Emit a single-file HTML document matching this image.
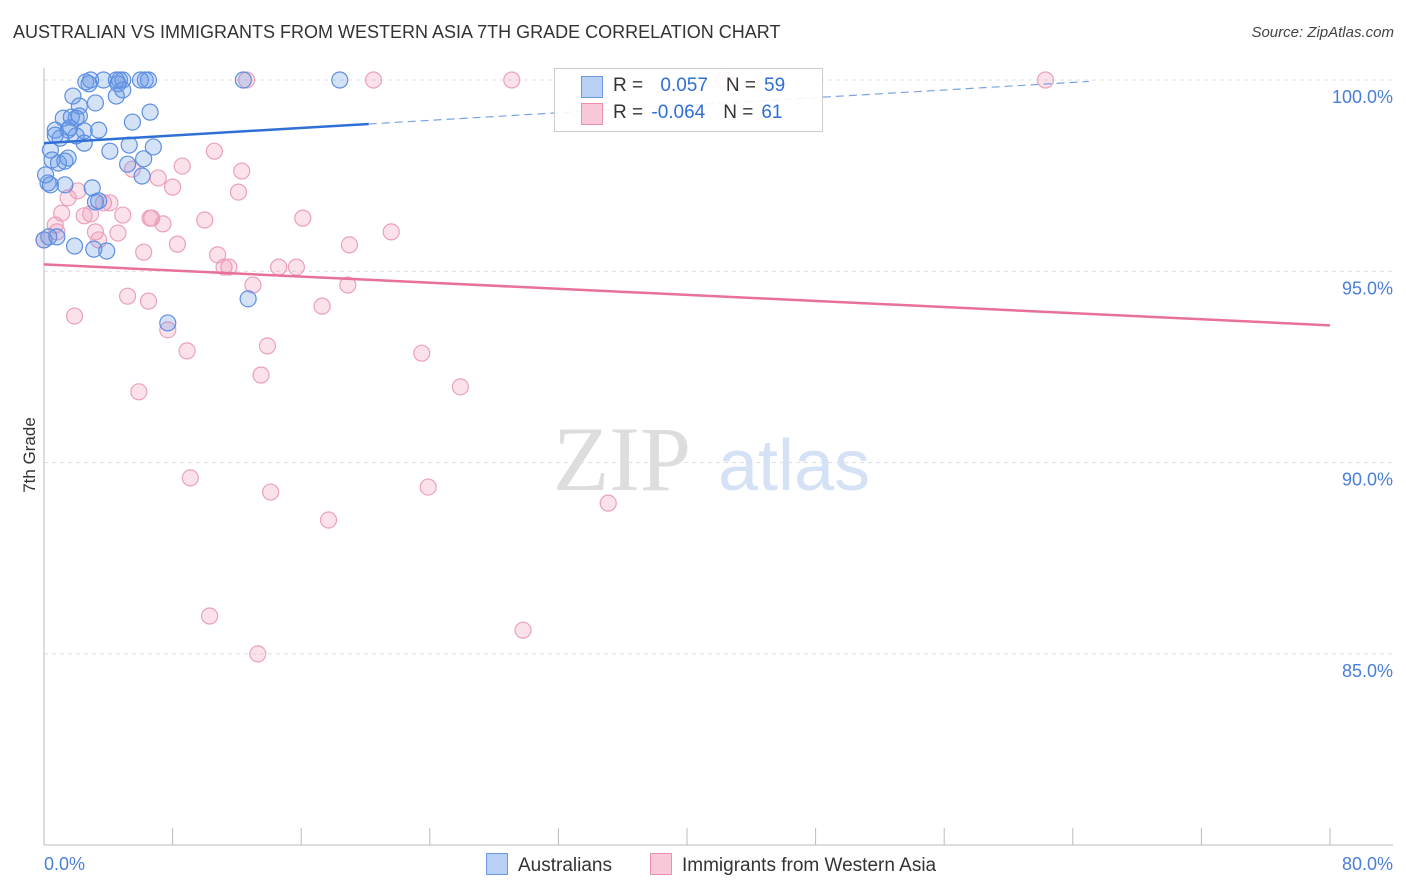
<!DOCTYPE html>
<html><head><meta charset="utf-8"><style>
body{margin:0;background:#fff;font-family:"Liberation Sans",sans-serif;}
#wrap{position:relative;width:1406px;height:892px;overflow:hidden;}
.t{position:absolute;white-space:nowrap;}
</style></head><body>
<div id="wrap">
<div class="t" style="left:13px;top:22px;font-size:18px;color:#333;">AUSTRALIAN VS IMMIGRANTS FROM WESTERN ASIA 7TH GRADE CORRELATION CHART</div>
<div class="t" style="right:12px;top:24px;font-size:15px;color:#444;font-style:italic;">Source: ZipAtlas.com</div>
<div class="t" style="left:-8px;top:445px;font-size:17px;color:#333;transform:rotate(-90deg);">7th Grade</div>
<svg id="svg" width="1406" height="892" style="position:absolute;left:0;top:0"></svg>
</div>
<script>
const blueX=[2.6,2.9,3.7,4.5,4.7,4.9,6.0,6.3,6.5,12.4,18.4,2.8,4.6,1.8,4.5,4.9,2.2,3.2,6.6,1.2,1.7,2.2,2.0,0.7,1.5,1.6,2.5,3.4,5.5,1.0,2.0,2.5,5.3,6.8,4.1,0.5,0.9,1.3,1.5,5.2,6.2,6.1,0.25,1.3,3.0,0.4,3.2,3.4,0.3,0.0,0.8,1.9,3.1,3.9,12.7,7.7,0.4,0.7,0.1];
const blueY=[99.95,100,100,100,100,100,100,100,100,100,100,99.9,99.9,99.58,99.58,99.74,99.32,99.4,99.16,99.0,99.03,99.06,99.0,98.69,98.69,98.75,98.67,98.69,98.9,98.48,98.54,98.35,98.3,98.25,98.14,97.91,97.83,97.88,97.96,97.8,97.94,97.49,97.31,97.26,97.18,97.26,96.81,96.84,95.9,95.82,95.9,95.66,95.58,95.53,94.28,93.65,98.17,98.56,97.52];
const pinkX=[0.0,0.7,0.8,1.1,1.5,2.1,2.5,2.9,3.2,3.4,3.7,4.1,4.6,4.9,5.5,6.2,6.6,6.7,7.1,7.4,8.0,8.3,8.6,10.0,10.6,10.8,11.2,11.5,12.1,12.3,12.6,13.0,13.9,13.5,14.6,15.7,16.1,17.3,19.0,18.9,20.5,21.6,23.5,25.9,29.1,1.9,5.2,6.5,7.7,8.9,5.9,9.1,14.1,17.7,23.9,35.1,10.3,13.3,29.8,62.3,42.3];
const pinkY=[95.82,96.21,96.03,96.52,96.92,97.1,96.45,96.5,96.03,95.82,96.79,96.79,96.0,96.47,97.67,95.5,96.39,96.39,97.44,96.24,97.2,95.71,97.75,96.34,98.14,95.43,95.11,95.11,97.07,97.62,100,94.64,93.05,92.29,95.11,95.11,96.39,94.09,95.69,94.64,100,96.03,92.86,91.98,100,93.83,94.35,94.22,93.47,92.92,91.85,89.6,89.23,88.5,89.36,88.94,85.99,85.0,85.62,100,100];
const yTicks=[100,95,90,85];
const yTickLabels=["100.0%","95.0%","90.0%","85.0%"];
const blueTrend=[98.35,0.0248]; // intercept, slope
const pinkTrend=[95.18,-0.0199];
const NS="http://www.w3.org/2000/svg";
const svg=document.getElementById('svg');
const X=v=>44+v*16.075, Y=v=>80+(100-v)*38.26;
function el(t,a){const e=document.createElementNS(NS,t);for(const k in a)e.setAttribute(k,a[k]);svg.appendChild(e);return e;}
// gridlines
yTicks.forEach((v,i)=>{
 const g=el('line',{x1:44,x2:1393,y1:Y(v),y2:Y(v),stroke:'#ddd','stroke-dasharray':'4,4'});
 
 
 const t=el('text',{x:1393,y:Y(v)+23,'text-anchor':'end','font-size':18,fill:'#4a7fd6','font-family':'Liberation Sans'});
 t.textContent=yTickLabels[i];
 
 
});
// axes
const ax=el('line',{x1:44,x2:1393,y1:845,y2:845,stroke:'#bbb'});


const ay=el('line',{x1:44,x2:44,y1:68,y2:845,stroke:'#bbb'});


for(let i=0;i<=10;i++){const tk=el('line',{x1:X(i*8),x2:X(i*8),y1:828,y2:845,stroke:'#bbb'});
 
 }
// watermark
const w1=el('text',{x:553,y:490,'font-size':92,fill:'#ddd','font-family':'Liberation Serif'});w1.textContent='ZIP';


const w2=el('text',{x:718,y:490,'font-size':72,fill:'#d5e2f5','font-family':'Liberation Sans'});w2.textContent='atlas';


// points
function pts(xs,ys,fill,stroke,name){xs.forEach((x,i)=>{const c=el('circle',{cx:X(x),cy:Y(ys[i]),r:8,fill:fill,stroke:stroke,'stroke-width':1.2});
 
 });}
pts(pinkX,pinkY,'rgba(240,150,180,0.28)','#eba0bc','pink-point');
pts(blueX,blueY,'rgba(100,150,230,0.28)','#5e8fe0','blue-point');
// trends
const bs=el('line',{x1:X(0),y1:Y(blueTrend[0]),x2:X(20.2),y2:Y(blueTrend[0]+blueTrend[1]*20.2),stroke:'#2f6fd6','stroke-width':2.5});


const bd=el('line',{x1:X(20.2),y1:Y(blueTrend[0]+blueTrend[1]*20.2),x2:X(65),y2:Y(blueTrend[0]+blueTrend[1]*65),stroke:'#7aa3e5','stroke-width':1.2,'stroke-dasharray':'8,5'});


const pl=el('line',{x1:X(0),y1:Y(pinkTrend[0]),x2:X(80),y2:Y(pinkTrend[0]+pinkTrend[1]*80),stroke:'#e8709c','stroke-width':2.5});


// x labels
const xl=el('text',{x:44,y:870,'font-size':18,fill:'#4a7fd6'});xl.textContent='0.0%';


const xr=el('text',{x:1393,y:870,'font-size':18,fill:'#4a7fd6','text-anchor':'end'});xr.textContent='80.0%';


</script>
<div class="t" style="left:554px;top:68px;width:267px;height:62px;border:1px solid #ccc;background:rgba(255,255,255,0.9);font-size:19px;">
 <div style="position:absolute;left:26px;top:7px;width:20px;height:20px;background:#b9d0f5;border:1px solid #6b98e0;"></div>
 <div style="position:absolute;left:58px;top:6px;color:#333;">R = <span style="color:#2f6fd6;margin-left:12px">0.057</span><span style="color:#333;margin-left:18px">N =</span><span style="color:#2f6fd6;margin-left:8px">59</span></div>
 <div style="position:absolute;left:26px;top:34px;width:20px;height:20px;background:#f8c8d8;border:1px solid #e890b0;"></div>
 <div style="position:absolute;left:58px;top:33px;color:#333;">R = <span style="color:#2f6fd6;margin-left:3px">-0.064</span><span style="color:#333;margin-left:18px">N =</span><span style="color:#2f6fd6;margin-left:8px">61</span></div>
</div>
<div class="t" style="left:486px;top:853px;font-size:19px;color:#333;"><span style="display:inline-block;width:20px;height:20px;background:#b9d0f5;border:1px solid #6b98e0;vertical-align:-4px;margin-right:10px"></span>Australians</div>
<div class="t" style="left:650px;top:853px;font-size:19px;color:#333;"><span style="display:inline-block;width:20px;height:20px;background:#f8c8d8;border:1px solid #e890b0;vertical-align:-4px;margin-right:10px"></span>Immigrants from Western Asia</div>
</body></html>
